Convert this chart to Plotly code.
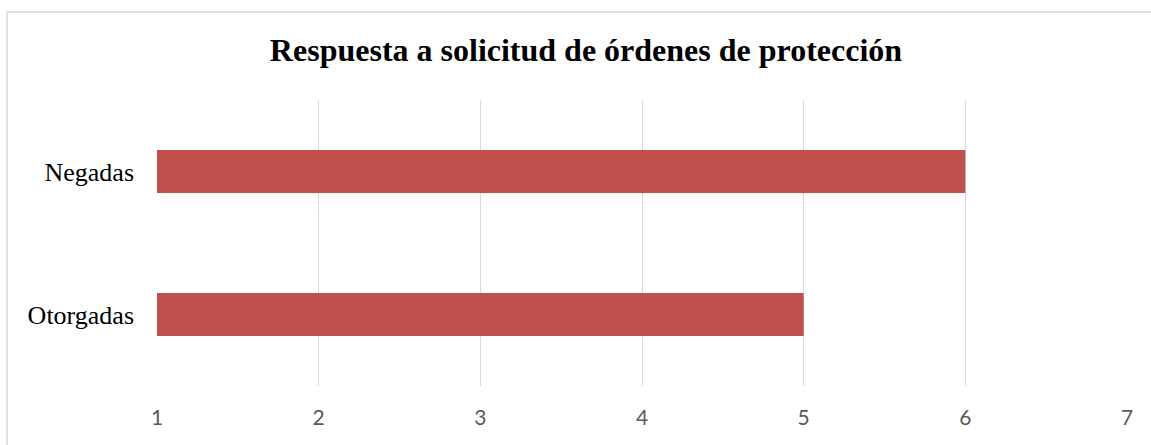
import plotly.graph_objects as go

categories = ["Otorgadas", "Negadas"]
values = [5, 6]
x_ticks = [1, 2, 3, 4, 5, 6, 7]

W, H = 1151, 445
left, right, top, bottom = 157, 24, 100, 59
plot_w = W - left - right
plot_h = H - top - bottom

fig = go.Figure()
fig.add_trace(
    go.Bar(
        y=categories,
        x=values,
        orientation="h",
        marker=dict(color="#C0504D", line=dict(width=0)),
        width=0.3,
    )
)

# outer chart border (Excel-style chart area)
fig.add_shape(
    type="rect",
    xref="paper",
    yref="paper",
    x0=(7 - left) / plot_w,
    x1=1.2,
    y0=-0.5,
    y1=(H - bottom - 12) / plot_h,
    line=dict(color="#d9d9d9", width=1.5),
    fillcolor="rgba(0,0,0,0)",
    layer="below",
)

fig.update_layout(
    width=W,
    height=H,
    margin=dict(l=left, r=right, t=top, b=bottom),
    paper_bgcolor="white",
    plot_bgcolor="white",
    showlegend=False,
    title=dict(
        text="<b>Respuesta a solicitud de órdenes de protección</b>",
        x=586 / W,
        xref="container",
        xanchor="center",
        y=1 - 50 / H,
        yref="container",
        yanchor="middle",
        font=dict(family="Liberation Serif", size=32, color="black"),
    ),
    xaxis=dict(
        range=[1, 7],
        tickvals=x_ticks,
        showgrid=True,
        gridcolor="#d9d9d9",
        gridwidth=1,
        zeroline=False,
        showline=False,
        ticks="",
        ticklabelstandoff=17,
        tickfont=dict(family="Lato", size=21, color="#595959"),
    ),
    yaxis=dict(
        showgrid=False,
        zeroline=False,
        showline=False,
        ticks="",
        ticklabelstandoff=22,
        tickfont=dict(family="Liberation Serif", size=26, color="black"),
    ),
)

fig.write_html(
    "out.html",
    config={"displayModeBar": False},
    post_script="document.body.style.margin='0';",
)
